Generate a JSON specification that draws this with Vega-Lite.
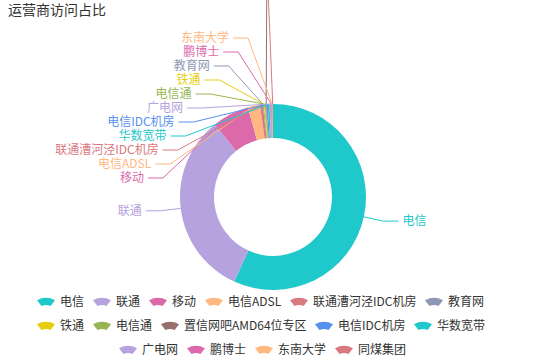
{
  "$schema": "https://vega.github.io/schema/vega-lite/v6.json",
  "width": 546,
  "height": 318,
  "autosize": {"type": "none"},
  "padding": {"top": 38, "left": 0, "right": 0, "bottom": 0},
  "background": "white",
  "title": {"text": "运营商访问占比", "anchor": "start", "frame": "group", "offset": -85, "baseline": "alphabetic", "dx": 8, "fontSize": 14, "font": "Noto Sans CJK SC", "fontWeight": "normal", "color": "#333333"},
  "config": {
    "view": {"stroke": null},
    "font": "Noto Sans CJK SC",
    "legend": {"labelFont": "Noto Sans CJK SC", "labelFontSize": 12, "labelColor": "#333333", "padding": 0, "symbolStrokeWidth": 0, "labelOffset": 5, "columnPadding": 8, "gridAlign": "none", "symbolSize": 324, "symbolType": "M-1,-0.2 Q0,-0.75 1,-0.2 L0.5,0.45 Q0,0.2 -0.5,0.45 Z", "direction": "horizontal", "title": null}
  },
  "data": {"values": [
    {"name": "电信", "value": 56.85},
    {"name": "联通", "value": 32.4},
    {"name": "移动", "value": 6.4},
    {"name": "电信ADSL", "value": 2.1},
    {"name": "联通漕河泾IDC机房", "value": 0.5},
    {"name": "教育网", "value": 0.16},
    {"name": "铁通", "value": 0.18},
    {"name": "电信通", "value": 0.2},
    {"name": "置信网吧AMD64位专区", "value": 0.08},
    {"name": "电信IDC机房", "value": 0.25},
    {"name": "华数宽带", "value": 0.3},
    {"name": "广电网", "value": 0.22},
    {"name": "鹏博士", "value": 0.14},
    {"name": "东南大学", "value": 0.12},
    {"name": "同煤集团", "value": 0.1}
  ]},
  "transform": [
    {"window": [{"op": "row_number", "as": "idx"}]},
    {"joinaggregate": [{"op": "sum", "field": "value", "as": "total"}]},
    {"window": [{"op": "sum", "field": "value", "as": "cum"}], "sort": [{"field": "idx", "order": "ascending"}], "frame": [null, 0]},
    {"calculate": "2*PI*(datum.cum - datum.value/2)/datum.total", "as": "mid"},
    {"calculate": "datum.mid > 1.5*PI ? 1 : 0", "as": "up"},
    {"window": [{"op": "row_number", "as": "rk"}], "groupby": ["up"], "sort": [{"field": "value", "order": "descending"}]},
    {"calculate": "273 + 93*sin(datum.mid)", "as": "sx"},
    {"calculate": "159 - 93*cos(datum.mid)", "as": "sy"},
    {"calculate": "19 + 14*(datum.rk - 1) + (datum.rk > 11 ? 60 : 0)", "as": "du"},
    {"calculate": "datum.up == 1 ? 159 - datum.du : 159 - 113*cos(datum.mid)", "as": "ey"},
    {"calculate": "datum.up == 1 ? 273 - max(6, 119.4 - 0.48*datum.du - 0.000714*datum.du*datum.du) : 273 + 113*sin(datum.mid)", "as": "ex"},
    {"calculate": "sin(datum.mid) >= 0 ? 1 : -1", "as": "dir"},
    {"calculate": "datum.ex + 15*datum.dir", "as": "e2x"},
    {"calculate": "datum.e2x + 4*datum.dir", "as": "tx"}
  ],
  "layer": [
    {
      "mark": {"type": "arc", "outerRadius": 93, "innerRadius": 59},
      "encoding": {
        "theta": {"field": "value", "type": "quantitative", "stack": true},
        "order": {"field": "idx", "type": "quantitative"},
        "color": {"field": "name", "type": "nominal",
          "scale": {"domain": ["电信","联通","移动","电信ADSL","联通漕河泾IDC机房","教育网","铁通","电信通","置信网吧AMD64位专区","电信IDC机房","华数宽带","广电网","鹏博士","东南大学","同煤集团"],
                    "range": ["#1fc8cb","#b6a2de","#dc69aa","#ffb980","#d87a80","#8d98b3","#e5cf0d","#97b552","#95706d","#5591ef","#1fc8cb","#b6a2de","#dc69aa","#ffb980","#d87a80"]},
          "legend": {"values": ["电信","联通","移动","电信ADSL","联通漕河泾IDC机房","教育网"], "orient": "none", "legendX": 37, "legendY": 255, "columns": 6}}
      }
    },
    {
      "mark": {"type": "rule", "strokeWidth": 1},
      "encoding": {
        "x": {"field": "sx", "type": "quantitative", "scale": {"domain": [0, 546], "range": [0, 546], "nice": false, "zero": false}, "axis": null},
        "y": {"field": "sy", "type": "quantitative", "scale": {"domain": [0, 318], "range": [0, 318], "nice": false, "zero": false}, "axis": null},
        "x2": {"field": "ex"},
        "y2": {"field": "ey"},
        "stroke": {"field": "name", "type": "nominal",
          "scale": {"domain": ["电信","联通","移动","电信ADSL","联通漕河泾IDC机房","教育网","铁通","电信通","置信网吧AMD64位专区","电信IDC机房","华数宽带","广电网","鹏博士","东南大学","同煤集团","_b","_c"],
                    "range": ["#1fc8cb","#b6a2de","#dc69aa","#ffb980","#d87a80","#8d98b3","#e5cf0d","#97b552","#95706d","#5591ef","#1fc8cb","#b6a2de","#dc69aa","#ffb980","#d87a80"]},
          "legend": {"values": ["广电网","鹏博士","东南大学","同煤集团"], "orient": "none", "legendX": 119, "legendY": 303, "columns": 4,
                     "encoding": {"symbols": {"fill": {"value": {"expr": "scale('stroke', datum.value)"}}}}}}
      }
    },
    {
      "mark": {"type": "rule", "strokeWidth": 1},
      "encoding": {
        "x": {"field": "ex", "type": "quantitative"},
        "y": {"field": "ey", "type": "quantitative"},
        "x2": {"field": "e2x"},
        "stroke": {"field": "name", "type": "nominal"}
      }
    },
    {
      "transform": [{"filter": "datum.dir < 0"}],
      "mark": {"type": "text", "align": "right", "baseline": "middle", "fontSize": 12, "font": "Noto Sans CJK SC"},
      "encoding": {
        "x": {"field": "tx", "type": "quantitative"},
        "y": {"field": "ey", "type": "quantitative"},
        "text": {"field": "name"},
        "fill": {"field": "name", "type": "nominal",
          "scale": {"domain": ["电信","联通","移动","电信ADSL","联通漕河泾IDC机房","教育网","铁通","电信通","置信网吧AMD64位专区","电信IDC机房","华数宽带","广电网","鹏博士","东南大学","同煤集团","_a"],
                    "range": ["#1fc8cb","#b6a2de","#dc69aa","#ffb980","#d87a80","#8d98b3","#e5cf0d","#97b552","#95706d","#5591ef","#1fc8cb","#b6a2de","#dc69aa","#ffb980","#d87a80"]},
          "legend": {"values": ["铁通","电信通","置信网吧AMD64位专区","电信IDC机房","华数宽带"], "orient": "none", "legendX": 37, "legendY": 279, "columns": 5}}
      }
    },
    {
      "transform": [{"filter": "datum.dir > 0"}],
      "mark": {"type": "text", "align": "left", "baseline": "middle", "fontSize": 12, "font": "Noto Sans CJK SC"},
      "encoding": {
        "x": {"field": "tx", "type": "quantitative"},
        "y": {"field": "ey", "type": "quantitative"},
        "text": {"field": "name"},
        "fill": {"field": "name", "type": "nominal"}
      }
    }
  ]
}
